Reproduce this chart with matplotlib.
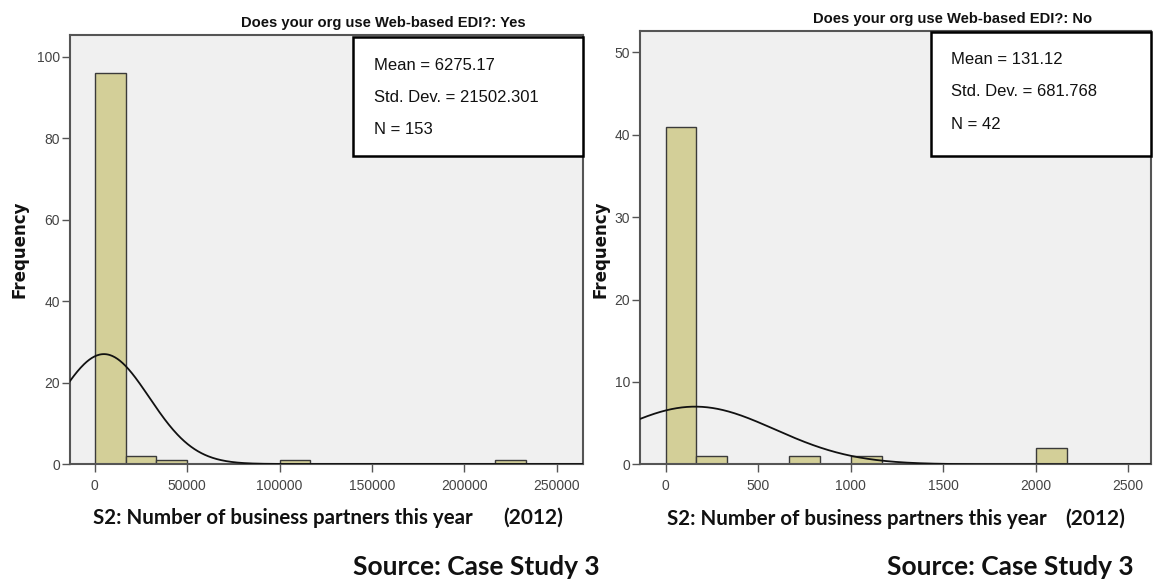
import numpy as np
import matplotlib
matplotlib.use("Agg")
import matplotlib.pyplot as plt
from matplotlib.patches import Rectangle

W, H = 1154, 581

# ---------------- data ----------------
titles = ["Does your org use Web-based EDI?: Yes", "Does your org use Web-based EDI?: No"]
stats_text = [["Mean = 6275.17", "Std. Dev. = 21502.301", "N = 153"],
              ["Mean = 131.12", "Std. Dev. = 681.768", "N = 42"]]

yes_bin_width = 250000 / 15
yes_counts = [96, 2, 1, 0, 0, 0, 1, 0, 0, 0, 0, 0, 0, 1]
no_bin_width = 167
no_counts = [41, 1, 0, 0, 1, 0, 1, 0, 0, 0, 0, 0, 2]

# normal curve as drawn (centre, spread, peak height)
yes_curve = (5000, 24500, 27.0)
no_curve = (160, 430, 7.0)

yes_xticks = [0, 50000, 100000, 150000, 200000, 250000]
yes_yticks = [0, 20, 40, 60, 80, 100]
no_xticks = [0, 500, 1000, 1500, 2000, 2500]
no_yticks = [0, 10, 20, 30, 40, 50]

yes_xlim = (-13630, 264000)
yes_ylim = (0, 105.4)
no_xlim = (-138, 2624)
no_ylim = (0, 52.6)

xlabel_main = "S2: Number of business partners this year"
xlabel_year = "(2012)"
source_text = "Source: Case Study 3"

# ---------------- style ----------------
BAR = "#d3cf98"
EDGE = "#3a3a3a"
FRAME = "#555555"
FACE = "#f0f0f0"
ARIAL = ["Liberation Sans", "DejaVu Sans"]
CAL = ["Lato", "DejaVu Sans"]

fig = plt.figure(figsize=(W / 100, H / 100), dpi=100)
fig.patch.set_facecolor("white")


def fx(x):
    return x / W


def fy(y):
    return 1 - y / H


def make_axes(x0, x1, y0, y1):
    return fig.add_axes([fx(x0), fy(y1), fx(x1) - fx(x0), (y1 - y0) / H])


panels = [
    dict(frame=(69.5, 582.7, 35, 464), counts=yes_counts, bw=yes_bin_width, curve=yes_curve,
         xticks=yes_xticks, yticks=yes_yticks, xlim=yes_xlim, ylim=yes_ylim,
         title=titles[0], title_pos=(383, 23), box=(353, 582.7, 37, 156), box_text_x=374,
         box_text_y=[65, 98, 129], ylabel_x=19.5,
         xlab=(93, 518), year=(503, 518), source=(353, 567), stats=stats_text[0]),
    dict(frame=(640, 1151, 31, 464.3), counts=no_counts, bw=no_bin_width, curve=no_curve,
         xticks=no_xticks, yticks=no_yticks, xlim=no_xlim, ylim=no_ylim,
         title=titles[1], title_pos=(953, 19), box=(931, 1151, 32, 156), box_text_x=951,
         box_text_y=[60, 92, 125], ylabel_x=600,
         xlab=(667, 519), year=(1065, 519), source=(887, 567), stats=stats_text[1]),
]

for p in panels:
    x0, x1, y0, y1 = p["frame"]
    ax = make_axes(x0, x1, y0, y1)
    ax.set_facecolor(FACE)
    counts = np.array(p["counts"], dtype=float)
    edges = np.arange(len(counts)) * p["bw"]
    ax.bar(edges, counts, width=p["bw"], align="edge", color=BAR,
           edgecolor=EDGE, linewidth=1.0, zorder=2)
    mu, sd, peak = p["curve"]
    xs = np.linspace(p["xlim"][0], p["xlim"][1], 600)
    ax.plot(xs, peak * np.exp(-0.5 * ((xs - mu) / sd) ** 2), color="#111111",
            lw=1.3, zorder=3)
    ax.set_xlim(*p["xlim"])
    ax.set_ylim(*p["ylim"])
    ax.set_xticks(p["xticks"])
    ax.set_yticks(p["yticks"])
    ax.set_xticklabels([str(t) for t in p["xticks"]], fontfamily=ARIAL, fontsize=10,
                       color="#444444")
    ax.set_yticklabels([str(t) for t in p["yticks"]], fontfamily=ARIAL, fontsize=10,
                       color="#444444")
    ax.tick_params(axis="both", direction="out", length=5.5, width=1.0, color=FRAME,
                   pad=1.5)
    ax.tick_params(axis="x", pad=5)
    for s in ax.spines.values():
        s.set_color(FRAME)
        s.set_linewidth(1.5)
    ax.set_zorder(1)

    # title
    tx, ty = p["title_pos"]
    fig.text(fx(tx), fy(ty), p["title"], ha="center", va="center",
             fontfamily=ARIAL, fontweight="bold", fontsize=10.6, color="#111111")

    # stats box
    bx0, bx1, by0, by1 = p["box"]
    fig.patches.append(Rectangle((fx(bx0), fy(by1)), fx(bx1) - fx(bx0), (by1 - by0) / H,
                                 transform=fig.transFigure, facecolor="white",
                                 edgecolor="black", linewidth=1.8, zorder=5))
    for line, yy in zip(p["stats"], p["box_text_y"]):
        fig.text(fx(p["box_text_x"]), fy(yy), line, ha="left", va="center",
                 fontfamily=ARIAL, fontsize=12, color="#111111", zorder=6)

    # y label
    fig.text(fx(p["ylabel_x"]), fy(249), "Frequency", rotation=90, ha="center",
             va="center", fontfamily=["DejaVu Sans"], fontweight="bold", fontsize=12,
             color="#111111")

    # x label
    lx, ly = p["xlab"]
    fig.text(fx(lx), fy(ly), xlabel_main, ha="left", va="center", fontfamily=CAL,
             fontweight="bold", fontsize=14.8, color="#111111")
    yx, yy = p["year"]
    fig.text(fx(yx), fy(yy), xlabel_year, ha="left", va="center", fontfamily=CAL,
             fontweight="bold", fontsize=15, color="#111111")
    sx, sy = p["source"]
    fig.text(fx(sx), fy(sy), source_text, ha="left", va="center", fontfamily=CAL,
             fontweight="bold", fontsize=19, color="#111111")

fig.savefig("out.png", dpi=100, facecolor="white")
